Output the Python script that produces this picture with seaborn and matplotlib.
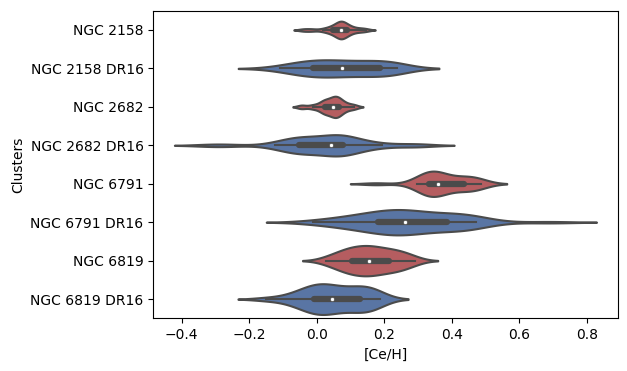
import numpy as np
import pandas as pd
import matplotlib
matplotlib.use("Agg")
import matplotlib.pyplot as plt
from matplotlib import cbook
import seaborn as sns

# Clusters, top to bottom
clusters = ["NGC 2158", "NGC 2158 DR16", "NGC 2682", "NGC 2682 DR16",
            "NGC 6791", "NGC 6791 DR16", "NGC 6819", "NGC 6819 DR16"]

# [Ce/H] values per cluster
ngc2158 = [-0.040, -0.015, 0.018, 0.034, 0.045, 0.050, 0.058, 0.064, 0.068, 0.070,
           0.071, 0.074, 0.077, 0.081, 0.088, 0.092, 0.100, 0.112, 0.128, 0.145]
ngc2158_dr16 = [-0.109, -0.075, -0.050, -0.035, -0.022, -0.018, -0.009, 0.010,
                0.025, 0.040, 0.058, 0.070, 0.082, 0.098, 0.115, 0.135, 0.155,
                0.184, 0.192, 0.200, 0.210, 0.220, 0.230, 0.238]
ngc2682 = [-0.045, -0.012, 0.010, 0.020, 0.024, 0.032, 0.040, 0.047,
           0.051, 0.055, 0.060, 0.065, 0.069, 0.078, 0.092, 0.111]
ngc2682_dr16 = [-0.320, -0.262, -0.124, -0.100, -0.085, -0.072, -0.063, -0.055,
                -0.051, -0.046, -0.035, -0.022, -0.010, 0.005, 0.020, 0.035,
                0.051, 0.058, 0.063, 0.067, 0.070, 0.072, 0.074, 0.076, 0.084,
                0.100, 0.118, 0.138, 0.165, 0.194, 0.278, 0.305]
ngc6791 = [0.175, 0.297, 0.310, 0.318, 0.324, 0.329, 0.333, 0.337, 0.342, 0.347,
           0.352, 0.356, 0.360, 0.368, 0.380, 0.395, 0.410, 0.433, 0.440, 0.448,
           0.458, 0.468, 0.478, 0.487]
ngc6791_dr16 = [-0.011, 0.030, 0.060, 0.085, 0.105, 0.120, 0.135, 0.150, 0.162,
                0.172, 0.185, 0.195, 0.205, 0.215, 0.223, 0.230, 0.238, 0.245,
                0.252, 0.257, 0.263, 0.270, 0.280, 0.292, 0.305, 0.318, 0.332,
                0.347, 0.362, 0.380, 0.400, 0.412, 0.423, 0.433, 0.443, 0.452,
                0.460, 0.467, 0.473, 0.690]
ngc6819 = [0.026, 0.045, 0.060, 0.072, 0.082, 0.090, 0.097, 0.102, 0.110, 0.118,
           0.126, 0.134, 0.141, 0.147, 0.152, 0.158, 0.165, 0.172, 0.180, 0.188,
           0.196, 0.205, 0.216, 0.224, 0.232, 0.240, 0.250, 0.262, 0.275, 0.290]
ngc6819_dr16 = [-0.150, -0.090, -0.065, -0.048, -0.035, -0.025, -0.017, -0.011,
                -0.003, 0.005, 0.012, 0.019, 0.026, 0.033, 0.040, 0.050, 0.060,
                0.072, 0.085, 0.097, 0.108, 0.120, 0.130, 0.138, 0.145, 0.152,
                0.160, 0.168, 0.177, 0.187]

ce_h = [ngc2158, ngc2158_dr16, ngc2682, ngc2682_dr16,
        ngc6791, ngc6791_dr16, ngc6819, ngc6819_dr16]

# styling per violin
colors = ["#C44E52", "#4C72B0"] * 4
widths = [0.46, 0.45, 0.555, 0.555, 0.66, 0.66, 0.79, 0.80]
bw_adjust = [0.58, 1.1, 0.58, 0.78, 1.0, 1.0, 0.95, 0.95]
gray = "#4b4b4b"

df = pd.concat([pd.DataFrame({"Clusters": name, "[Ce/H]": vals})
                for name, vals in zip(clusters, ce_h)], ignore_index=True)

fig, ax = plt.subplots(figsize=(6.27, 3.71), dpi=100)
fig.subplots_adjust(left=0.2445, right=0.985, bottom=0.142, top=0.971)

for i, name in enumerate(clusters):
    sub = df[df["Clusters"] == name]
    sns.violinplot(data=sub, x="[Ce/H]", y="Clusters", order=clusters,
                   color=colors[i], density_norm="width", width=widths[i],
                   bw_adjust=bw_adjust[i], inner=None, linewidth=1.5,
                   linecolor=gray, ax=ax)

    # inner box: whiskers, quartile box, median dot
    st = cbook.boxplot_stats(sub["[Ce/H]"].to_numpy())[0]
    ax.plot([st["whislo"], st["whishi"]], [i, i], color=gray, lw=1.5, zorder=2)
    ax.plot([st["q1"], st["q3"]], [i, i], color=gray, lw=4.5,
            solid_capstyle="round", zorder=2)
    ax.scatter(st["med"], i, s=9, color="white", edgecolor=gray,
               linewidth=0.5, zorder=3)

ax.set_ylim(len(clusters) - 0.5, -0.5)
ax.set_xlabel("[Ce/H]")
ax.set_ylabel("Clusters")

fig.savefig("out.png", dpi=100)
